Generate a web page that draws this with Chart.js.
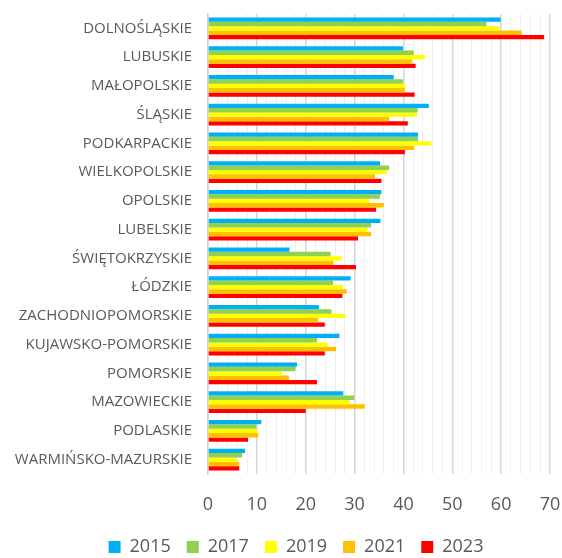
<!DOCTYPE html>
<html><head><meta charset="utf-8">
<script src="https://cdn.jsdelivr.net/npm/chart.js@4/dist/chart.umd.min.js"></script>
<style>html,body{margin:0;padding:0;background:#fff;}#c{display:block;}</style>
</head><body>
<canvas id="c" width="562" height="558"></canvas>
<script>
const categories = ["DOLNOŚLĄSKIE","LUBUSKIE","MAŁOPOLSKIE","ŚLĄSKIE","PODKARPACKIE","WIELKOPOLSKIE","OPOLSKIE","LUBELSKIE","ŚWIĘTOKRZYSKIE","ŁÓDZKIE","ZACHODNIOPOMORSKIE","KUJAWSKO-POMORSKIE","POMORSKIE","MAZOWIECKIE","PODLASKIE","WARMIŃSKO-MAZURSKIE"];
const seriesNames = ["2015","2017","2019","2021","2023"];
const v2015 = [59.9,39.9,38.0,45.2,43.0,35.2,35.5,35.3,16.7,29.2,22.7,26.9,18.2,27.7,10.9,7.6];
const v2017 = [57.0,42.1,39.9,42.9,43.0,37.1,35.2,33.4,25.1,25.6,25.3,22.3,17.9,29.9,9.9,7.0];
const v2019 = [59.7,44.4,40.4,42.8,45.7,36.6,33.0,32.6,27.4,27.6,28.1,24.5,15.1,29.0,10.1,5.9];
const v2021 = [64.2,41.8,40.3,37.1,42.2,34.2,36.0,33.4,25.7,28.4,22.5,26.2,16.6,32.1,10.3,6.4];
const v2023 = [68.8,42.5,42.3,40.9,40.3,35.5,34.4,30.7,30.3,27.5,23.9,23.9,22.3,20.0,8.2,6.4];
const xTicks = [0,10,20,30,40,50,60,70];
const colors = ["#00B0F0","#92D050","#FFFF00","#FFC000","#FF0000"];
const values = [v2015,v2017,v2019,v2021,v2023];

const shiftLegend = {
  id: 'shiftLegend',
  afterLayout(chart){ if (chart.legend){ chart.legend.left += 15; chart.legend.right += 15; } }
};

new Chart(document.getElementById('c'), {
  type: 'bar',
  data: {
    labels: categories,
    datasets: seriesNames.map((n,i)=>({label:n,data:values[i],backgroundColor:colors[i],borderWidth:0,categoryPercentage:0.76,barPercentage:1.0}))
  },
  options: {
    indexAxis: 'y',
    responsive: false,
    animation: false,
    layout: {padding: {top: 14, right: 0, left: 0, bottom: -8}},
    plugins: {
      legend: {position:'bottom', labels:{boxWidth:12, boxHeight:12, padding:16, color:'#595959', font:{family:'Open Sans', size:18}}},
      tooltip: {enabled:false}
    },
    scales: {
      x: {
        min: 0, max: 70,
        ticks: {stepSize: 2, autoSkip:false, maxRotation:0, color:'#595959', font:{family:'Open Sans', size:18}, padding: 20,
          callback: (v)=> xTicks.includes(v) ? String(v) : ''},
        grid: {color: (ctx)=> (ctx.tick && ctx.tick.value % 10 === 0) ? '#d6d6d6' : '#efefef', lineWidth: (ctx)=> (ctx.tick && ctx.tick.value % 10 === 0) ? 1.5 : 1, drawTicks:false},
        border: {display:false},
        afterFit: (s)=>{ s.height = 48; s.paddingRight = 12; s.paddingLeft = 0; }
      },
      y: {
        ticks: {color:'#595959', font:{family:'Open Sans', size:15}, padding: 16, autoSkip:false},
        grid: {display:false, drawTicks:false},
        border: {display:true, color:'#d0d0d0', width:1.5},
        afterFit: (s)=>{ s.width = 208; s.paddingTop = 0; s.paddingBottom = 0; }
      }
    }
  },
  plugins: [shiftLegend]
});
</script>
</body></html>
